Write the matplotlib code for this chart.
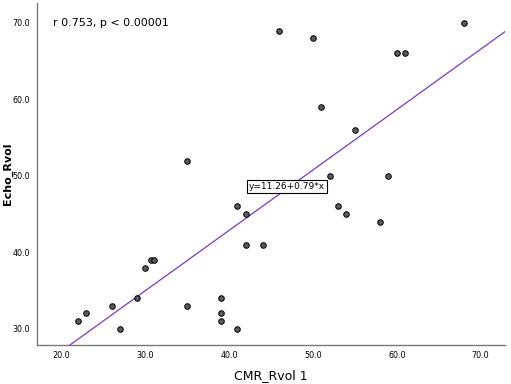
import matplotlib
matplotlib.use("Agg")
import matplotlib.pyplot as plt
import numpy as np

cmr = [22, 23, 26, 27, 29, 30, 30.7, 31, 35, 35, 39, 39, 39, 41, 41, 42, 42, 44,
       46, 50, 51, 52, 55, 53, 54, 58, 59, 60, 61, 68]
echo = [31, 32, 33, 30, 34, 38, 39, 39, 33, 52, 34, 32, 31, 30, 46, 45, 41, 41,
        69, 68, 59, 50, 56, 46, 45, 44, 50, 66, 66, 70]
intercept, slope = 11.26, 0.79
xticks = [20, 30, 40, 50, 60, 70]
yticks = [30, 40, 50, 60, 70]
xlim = (17.1, 72.9)
ylim = (27.87, 72.6)

fig = plt.figure(figsize=(5.11, 3.84), dpi=100)
ax = fig.add_axes([37/511, 1-345/384, (505-37)/511, (345-3)/384])
ax.set_xlim(*xlim)
ax.set_ylim(*ylim)

xs = np.array(xlim)
ax.plot(xs, intercept + slope * xs, color="#7d35d0", lw=0.9, zorder=2)
ax.scatter(cmr, echo, s=16, facecolor="#5a5a5a", edgecolor="black", linewidth=0.7, zorder=3)

for s in ["top", "right"]:
    ax.spines[s].set_visible(False)
for s in ["left", "bottom"]:
    ax.spines[s].set_color("#7a7a7a")
    ax.spines[s].set_linewidth(1.0)

ax.set_xticks(xticks)
ax.set_xticklabels([f"{v:.1f}" for v in xticks], fontsize=5.8)
ax.set_yticks(yticks)
ax.set_yticklabels([f"{v:.1f}" for v in yticks], fontsize=5.8)
ax.tick_params(axis="x", length=0, pad=4)
ax.tick_params(axis="y", length=0, pad=5)

ax.set_xlabel("CMR_Rvol 1", fontsize=9, labelpad=7)
ax.set_ylabel("Echo_Rvol", fontsize=8, fontweight="bold")
ax.yaxis.set_label_coords(-0.052, 0.5)

ax.text(0.035, 0.955, "r 0.753, p < 0.00001", transform=ax.transAxes, fontsize=8,
        ha="left", va="top")
ax.text(46.9, 48.6, f"y={intercept:.2f}+{slope:.2f}*x", fontsize=6.5, ha="center", va="center",
        bbox=dict(boxstyle="square,pad=0.2", facecolor="white", edgecolor="black", linewidth=0.8),
        zorder=4)

fig.savefig("out.png", dpi=100)
